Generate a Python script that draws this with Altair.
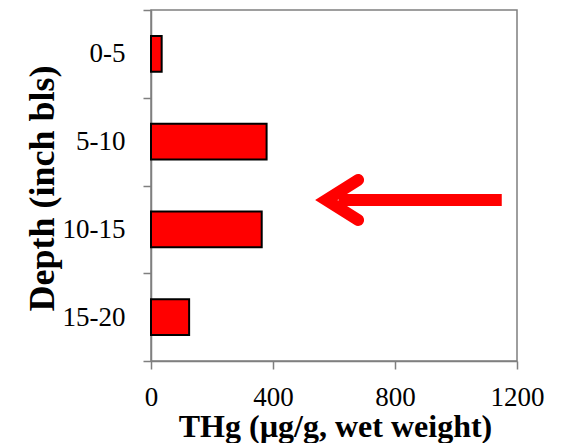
import altair as alt
import pandas as pd

depths = ["0-5", "5-10", "10-15", "15-20"]
thg = [35, 379, 363, 125]
x_ticks = [0, 400, 800, 1200]

# annotation arrow (x in data units, y in band units 0..4 from top)
arrow_shaft_x = [1150, 615]
arrow_shaft_y = [2.165]
arrow_head_x = [679, 575, 679]
arrow_head_y = [1.937, 2.165, 2.393]

bars_df = pd.DataFrame({"depth": depths, "thg": thg})
shaft_df = pd.DataFrame({"x": [arrow_shaft_x[0]], "x2": [arrow_shaft_x[1]], "y": arrow_shaft_y})
head_df = pd.DataFrame({"x": arrow_head_x, "y": arrow_head_y, "i": [0, 1, 2]})

FONT = "Liberation Serif"
GRAY = "#7f7f7f"

x_scale = alt.Scale(domain=[0, 1200], nice=False, zero=True)

bars = alt.Chart(bars_df).mark_bar(
    color="#ff0000", stroke="black", strokeWidth=2,
    height=alt.RelativeBandSize(0.41),
).encode(
    x=alt.X("thg:Q", scale=x_scale,
            axis=alt.Axis(values=x_ticks, format="d", title="THg (µg/g, wet weight)",
                          grid=False, tickSize=8, labelPadding=15, labelFlush=False,
                          titleX=184, titleY=75, titleBaseline="alphabetic",
                          labelFontSize=27, titleFontSize=32)),
    y=alt.Y("depth:N", sort=depths,
            scale=alt.Scale(paddingInner=0, paddingOuter=0),
            axis=alt.Axis(title="Depth (inch bls)", tickBand="extent",
                          grid=False, tickSize=8, labelPadding=18,
                          titleX=-98, titleY=178, titleBaseline="alphabetic",
                          labelFontSize=27, titleFontSize=36)),
)

shaft = alt.Chart(shaft_df).mark_rule(color="#ff0000", strokeWidth=12, strokeCap="butt").encode(
    x=alt.X("x:Q", scale=x_scale),
    x2="x2:Q",
    y=alt.Y("y:Q", scale=alt.Scale(domain=[0, 4], reverse=True, nice=False, zero=False), axis=None),
)

head = alt.Chart(head_df).mark_line(color="#ff0000", strokeWidth=12, strokeCap="round", strokeJoin="miter").encode(
    x=alt.X("x:Q", scale=x_scale),
    y=alt.Y("y:Q", scale=alt.Scale(domain=[0, 4], reverse=True, nice=False, zero=False), axis=None),
    order="i:O",
)

arrow = alt.layer(shaft, head)

chart = alt.layer(bars, arrow).resolve_scale(y="independent").properties(
    width=366, height=351,
    autosize=alt.AutoSizeParams(type="none"),
    padding={"left": 143, "top": 2, "right": 30, "bottom": 82},
).configure_view(
    stroke=GRAY, strokeWidth=1.5,
).configure_axis(
    domainColor=GRAY, domainWidth=1.5, tickColor=GRAY, tickWidth=1.5,
    labelFont=FONT, titleFont=FONT, labelColor="black", titleColor="black",
    titleFontWeight="bold",
)

chart.save("out.html", embed_options={"renderer": "svg", "actions": False})
